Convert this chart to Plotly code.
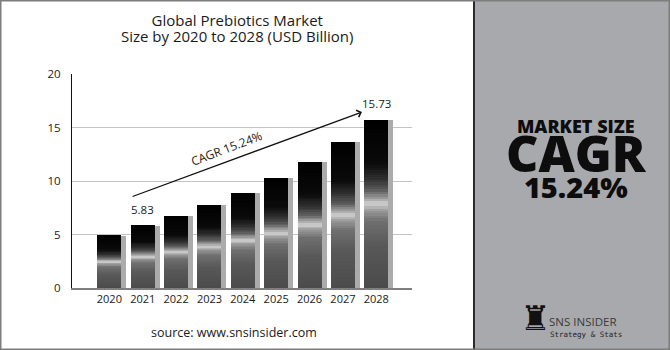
import plotly.graph_objects as go

# ---------------- data ----------------
years = ["2020", "2021", "2022", "2023", "2024", "2025", "2026", "2027", "2028"]
market_size = [4.87, 5.83, 6.70, 7.72, 8.90, 10.25, 11.82, 13.62, 15.73]
value_labels = ["", "5.83", "", "", "", "", "", "", "15.73"]
y_ticks = [0, 5, 10, 15, 20]
cagr_text = "CAGR 15.24%"
title_lines = ["Global Prebiotics Market", "Size by 2020 to 2028 (USD Billion)"]

# ---------------- layout geometry ----------------
W, H = 670, 350
L, R, T, B = 72, 258, 74, 62
PW = W - L - R
PH = H - T - B


def px_x(px):
    return (px - L) / PW


def px_y(py):
    return (H - B - py) / PH


FONT = "Open Sans"
BAR_W = 0.72

# vertical gradient of the bars (fraction of bar height from bottom, grey level)
grad_stops = [
    (0.00, 0x4b), (0.25, 0x58), (0.40, 0x70), (0.46, 0x9a), (0.50, 0xd2),
    (0.53, 0xa0), (0.58, 0x5c), (0.65, 0x2e), (0.74, 0x0a), (1.00, 0x00),
]


def grad_color(t):
    for (t0, c0), (t1, c1) in zip(grad_stops[:-1], grad_stops[1:]):
        if t0 <= t <= t1:
            f = (t - t0) / (t1 - t0) if t1 > t0 else 0
            c = round(c0 + (c1 - c0) * f)
            return f"rgb({c},{c},{c})"
    return "rgb(0,0,0)"


fig = go.Figure()

# 3D side / shadow of each bar
fig.add_trace(go.Bar(
    x=years, y=market_size, width=BAR_W, offset=-BAR_W / 2 + 0.15,
    marker=dict(color="#ababab", line=dict(width=0)), hoverinfo="skip",
))

# gradient-filled bars: nested bars, each covering from its base to the top
N = 70
for k in range(N):
    t = k / N
    fig.add_trace(go.Bar(
        x=years,
        y=[v * (1 - t) for v in market_size],
        base=[v * t for v in market_size],
        width=BAR_W,
        marker=dict(color=grad_color(t + 0.5 / N), line=dict(width=0)),
        hoverinfo="skip",
    ))

annotations = []
# value labels
for i, (v, lab) in enumerate(zip(market_size, value_labels)):
    if lab:
        annotations.append(dict(
            x=i, y=v, xref="x", yref="y", text=lab, showarrow=False,
            xanchor="center", yanchor="bottom", yshift=7,
            font=dict(family=FONT, size=11.5, color="#222"),
        ))

# CAGR arrow
annotations.append(dict(
    x=7.57, y=16.45, ax=0.65, ay=8.5, xref="x", yref="y", axref="x", ayref="y",
    text="", showarrow=True, arrowhead=4, arrowsize=1.1, arrowwidth=1.3,
    arrowcolor="#111", standoff=0, startstandoff=0,
))
annotations.append(dict(
    x=3.5, y=13.05, text=cagr_text, showarrow=False, textangle=-21,
    font=dict(family=FONT, size=12, color="#1a1a1a"),
))

# title (one text block, tight line spacing like the reference)
annotations.append(dict(
    x=px_x(237), y=px_y(28), xref="paper", yref="paper",
    text="<br>".join(f'<span style="font-size:15px">{s}</span>' for s in title_lines),
    showarrow=False, xanchor="center", yanchor="middle", align="center",
    font=dict(family=FONT, size=12.4, color="#1a1a1a"),
))

# source
annotations.append(dict(
    x=px_x(234), y=px_y(332), xref="paper", yref="paper",
    text="source: www.snsinsider.com", showarrow=False,
    xanchor="center", yanchor="middle",
    font=dict(family=FONT, size=12.5, color="#1a1a1a"),
))

# right panel text block (blank lines give the reference's spacing)
panel_text = (
    '<span style="font-size:18px">MARKET SIZE</span><br><br><br>'
    '<span style="font-size:50px">CAGR</span><br><br>'
    '<span style="font-size:29px">15.24%</span>'
)
annotations.append(dict(
    x=px_x(576), y=px_y(160), xref="paper", yref="paper", text=panel_text,
    showarrow=False, xanchor="center", yanchor="middle", align="center",
    font=dict(family=FONT, size=10, color="#0d0d0d", weight=800),
))

# logo
annotations.append(dict(
    x=px_x(535), y=px_y(318), xref="paper", yref="paper", text="♜",
    showarrow=False, xanchor="center", yanchor="middle",
    font=dict(family="DejaVu Sans", size=34, color="#111"),
))
annotations.append(dict(
    x=px_x(547), y=px_y(321), xref="paper", yref="paper", text="SNS INSIDER",
    showarrow=False, xanchor="left", yanchor="middle",
    font=dict(family=FONT, size=11.5, color="#3a3a3a"),
))
annotations.append(dict(
    x=px_x(548), y=px_y(334), xref="paper", yref="paper", text="Strategy &amp; Stats",
    showarrow=False, xanchor="left", yanchor="middle",
    font=dict(family="DejaVu Sans Mono", size=7.5, color="#222"),
))

shapes = [
    # right grey panel
    dict(type="rect", xref="paper", yref="paper",
         x0=px_x(474), x1=px_x(671), y0=px_y(-1), y1=px_y(351),
         fillcolor="#a8a9ad", line=dict(width=0), layer="below"),
    dict(type="line", xref="paper", yref="paper",
         x0=px_x(474), x1=px_x(474), y0=px_y(0), y1=px_y(350),
         line=dict(color="#2a2a2a", width=2)),
    # outer frame
    dict(type="rect", xref="paper", yref="paper",
         x0=px_x(0.75), x1=px_x(669.25), y0=px_y(0.75), y1=px_y(349.25),
         line=dict(color="#7d7d7d", width=1.5), fillcolor="rgba(0,0,0,0)"),
]

fig.update_layout(
    width=W, height=H,
    margin=dict(l=L, r=R, t=T, b=B, pad=0),
    paper_bgcolor="white", plot_bgcolor="white",
    barmode="overlay", bargap=0, showlegend=False,
    annotations=annotations, shapes=shapes,
    font=dict(family=FONT, color="#222"),
)

fig.update_xaxes(
    type="category", range=[-1.12, 9.07],
    showgrid=False, showline=True, linecolor="#7f7f7f", linewidth=2,
    ticks="", tickfont=dict(family=FONT, size=11, color="#1a1a1a"),
    ticklabelstandoff=0, zeroline=False, fixedrange=True,
)
fig.update_yaxes(
    range=[0, 20], tickvals=y_ticks, showgrid=True, gridcolor="#c4c4c4", gridwidth=1,
    showline=True, linecolor="#111", linewidth=1.3, zeroline=False,
    ticks="", tickfont=dict(family=FONT, size=11.5, color="#1a1a1a"),
    ticklabelstandoff=8, fixedrange=True,
)

fig.write_html("out.html")
